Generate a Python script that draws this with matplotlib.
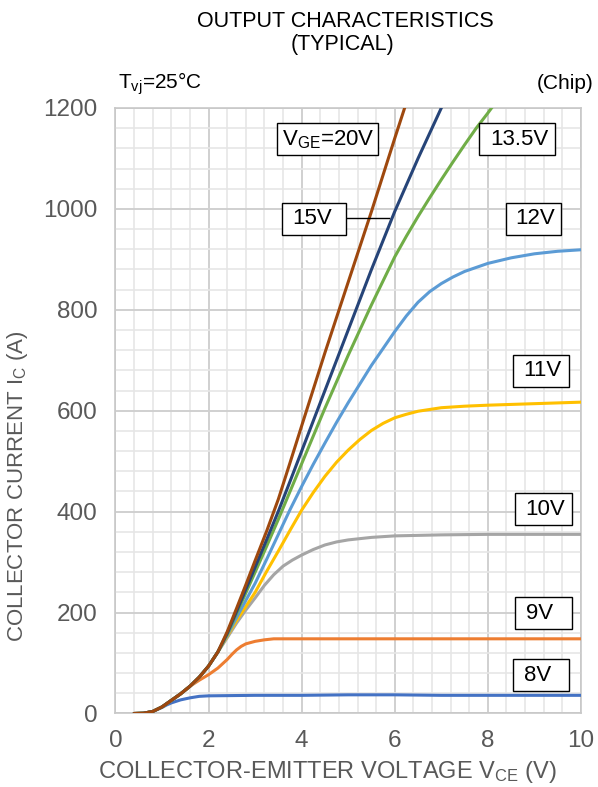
import numpy as np
import matplotlib
matplotlib.use('Agg')
import matplotlib.pyplot as plt
from matplotlib.patches import Rectangle

plt.rcParams['font.family'] = ['Liberation Sans', 'DejaVu Sans']
plt.rcParams['mathtext.fontset'] = 'custom'
plt.rcParams['mathtext.rm'] = 'Liberation Sans'
plt.rcParams['mathtext.it'] = 'Liberation Sans:italic'

# --- Datos: curvas de salida Ic = f(Vce) para cada Vge -----------------------
v_8 = [0.4, 0.6, 0.8, 1.0, 1.1, 1.2, 1.4, 1.6, 1.8, 2.0, 3.0, 4.0, 5.0, 6.0, 7.0, 8.0, 9.0, 10.0]
i_8 = [0, 0.5, 4, 12, 17, 21, 27, 31, 34, 35, 36, 36, 37, 37, 36, 36, 36, 36]

v_9 = [0.4, 0.6, 0.8, 1.0, 1.2, 1.4, 1.6, 1.7, 1.8, 2.0, 2.2, 2.4, 2.5, 2.6, 2.7, 2.8, 3.0, 3.2, 3.4, 4.0, 6.0, 8.0, 10.0]
i_9 = [0, 0.5, 4, 13, 26, 39, 54, 60, 66, 77, 90, 107, 117, 126, 133, 138, 143, 146, 148, 148, 148, 148, 148]

v_10 = [0.4, 0.6, 0.8, 1.0, 1.2, 1.4, 1.6, 1.8, 2.0, 2.2, 2.4, 2.6, 2.8, 3.0, 3.2, 3.4, 3.6, 3.8, 4.0,
        4.25, 4.5, 4.75, 5.0, 5.5, 6.0, 7.0, 8.0, 10.0]
i_10 = [0, 0.5, 4, 13, 26, 39, 54, 72, 94, 122, 150, 179, 205, 229, 254, 275, 292, 304, 314,
        325, 334, 340, 344, 349, 352, 354, 355, 355]

v_11 = [0.4, 0.6, 0.8, 1.0, 1.2, 1.4, 1.6, 1.8, 2.0, 2.2, 2.4, 2.6, 2.8, 3.0, 3.25, 3.5, 3.75, 4.0,
        4.25, 4.5, 4.75, 5.0, 5.25, 5.5, 5.75, 6.0, 6.25, 6.5, 7.0, 7.5, 8.0, 9.0, 10.0]
i_11 = [0, 0.5, 4, 13, 26, 39, 54, 72, 94, 122, 153, 184, 212, 240, 282, 322, 363, 403,
        438, 470, 498, 522, 543, 561, 575, 586, 593, 599, 606, 609, 611, 614, 617]

v_12 = [0.4, 0.6, 0.8, 1.0, 1.2, 1.4, 1.6, 1.8, 2.0, 2.2, 2.4, 2.6, 2.8, 3.0, 3.25, 3.5, 3.75, 4.0,
        4.25, 4.5, 4.75, 5.0, 5.5, 6.0, 6.25, 6.5, 6.75, 7.0, 7.25, 7.5, 8.0, 8.5, 9.0, 9.5, 10.0]
i_12 = [0, 0.5, 4, 13, 26, 39, 54, 72, 94, 122, 155, 190, 224, 258, 306, 355, 404, 450,
        494, 536, 577, 616, 690, 757, 788, 815, 836, 852, 865, 876, 892, 903, 911, 916, 919]

v_135 = [0.4, 0.6, 0.8, 1.0, 1.2, 1.4, 1.6, 1.8, 2.0, 2.2, 2.4, 2.6, 2.8, 3.0, 3.25, 3.5, 3.75, 4.0,
         4.5, 5.0, 5.5, 6.0, 6.25, 6.5, 6.75, 7.0, 7.25, 7.5, 7.75, 8.0, 8.2]
i_135 = [0, 0.5, 4, 13, 26, 39, 54, 72, 94, 122, 157, 198, 239, 280, 332, 385, 440, 495,
         605, 710, 810, 905, 946, 985, 1022, 1058, 1093, 1127, 1160, 1190, 1215]

v_15 = [0.4, 0.6, 0.8, 1.0, 1.2, 1.4, 1.6, 1.8, 2.0, 2.2, 2.4, 2.6, 2.8, 3.0, 3.25, 3.5, 3.75, 4.0,
        4.5, 5.0, 5.5, 6.0, 6.5, 7.0, 7.1]
i_15 = [0, 0.5, 4, 13, 26, 39, 54, 72, 94, 122, 159, 202, 246, 290, 345, 401, 460, 520,
        640, 760, 880, 995, 1100, 1200, 1220]

v_20 = [0.4, 0.6, 0.8, 1.0, 1.2, 1.4, 1.6, 1.8, 2.0, 2.2, 2.4, 2.6, 2.8, 3.0, 3.25, 3.5, 3.75, 4.0,
        4.5, 5.0, 5.5, 6.0, 6.3]
i_20 = [0, 0.5, 4, 13, 26, 39, 54, 72, 94, 122, 162, 208, 255, 303, 362, 425, 497, 570,
        715, 855, 995, 1140, 1225]

curvas = [
    (v_8, i_8, '#4472C4'),
    (v_9, i_9, '#ED7D31'),
    (v_10, i_10, '#A5A5A5'),
    (v_11, i_11, '#FFC000'),
    (v_12, i_12, '#5B9BD5'),
    (v_135, i_135, '#70AD47'),
    (v_15, i_15, '#264478'),
    (v_20, i_20, '#9E480E'),
]

# etiquetas: texto, centro del texto (V, A), caja (V izq, V der, A inf, A sup)
etiquetas = [
    (r'V$_\mathrm{GE}$=20V', 4.57, 1138, (3.48, 5.64, 1107, 1170)),
    ('13.5V', 8.68, 1138, (7.82, 9.45, 1107, 1170)),
    ('15V', 4.23, 980, (3.57, 4.95, 948, 1011)),
    ('12V', 9.02, 980, (8.38, 9.58, 948, 1011)),
    ('11V', 9.17, 679, (8.55, 9.75, 647, 710)),
    ('10V', 9.23, 405, (8.59, 9.80, 374, 437)),
    ('9V', 9.12, 199, (8.59, 9.80, 168, 231)),
    ('8V', 9.07, 76, (8.55, 9.75, 45, 108)),
]

gris = '#595959'

fig = plt.figure(figsize=(5.98, 7.87), dpi=100)
ax = fig.add_axes([0.1931, 0.0934, 0.7784, 0.7694])

for v, i, c in curvas:
    ax.plot(v, i, color=c, lw=2.2, solid_capstyle='round', solid_joinstyle='round', zorder=3)

# linea del rotulo de 15V
ax.plot([4.95, 5.87], [981, 981], color='black', lw=1.0, zorder=4)

for texto, xt, yt, (x0, x1, y0, y1) in etiquetas:
    ax.add_patch(Rectangle((x0, y0), x1 - x0, y1 - y0, facecolor='white',
                           edgecolor='black', lw=1.0, zorder=5))
    ax.text(xt, yt, texto, ha='center', va='center', fontsize=16, zorder=6)

ax.set_xlim(0, 10)
ax.set_ylim(0, 1200)
ax.set_xticks(np.arange(0, 11, 2))
ax.set_yticks(np.arange(0, 1201, 200))
ax.set_xticks(np.arange(0, 10.01, 0.4), minor=True)
ax.set_yticks(np.arange(0, 1201, 40), minor=True)
ax.grid(which='major', color='#D0D0D0', lw=1.4, zorder=0)
ax.grid(which='minor', color='#E6E6E6', lw=1.2, zorder=0)
ax.set_axisbelow(True)
ax.tick_params(which='both', length=0)
ax.tick_params(axis='y', labelsize=17.5, labelcolor=gris, pad=13)
ax.tick_params(axis='x', labelsize=17.5, labelcolor=gris, pad=12)
for s in ax.spines.values():
    s.set_color('#C8C8C8')
    s.set_linewidth(1.2)

fig.text(0.547, 0.0114, r'COLLECTOR-EMITTER VOLTAGE V$_\mathrm{CE}$ (V)', ha='center', va='baseline',
         fontsize=17, color=gris)
fig.text(0.030, 0.3825, r'COLLECTOR CURRENT I$_\mathrm{C}$ (A)', ha='center', va='center',
         rotation=90, fontsize=16, color=gris)

fig.text(0.578, 0.9727, 'OUTPUT CHARACTERISTICS', ha='center', va='center', fontsize=15.5)
fig.text(0.572, 0.944, '(TYPICAL)', ha='center', va='center', fontsize=15.5)
fig.text(0.197, 0.894, r'T$_\mathrm{vj}$=25°C', ha='left', va='center', fontsize=15)
fig.text(0.993, 0.894, '(Chip)', ha='right', va='center', fontsize=15)

fig.savefig('out.png', dpi=100)
